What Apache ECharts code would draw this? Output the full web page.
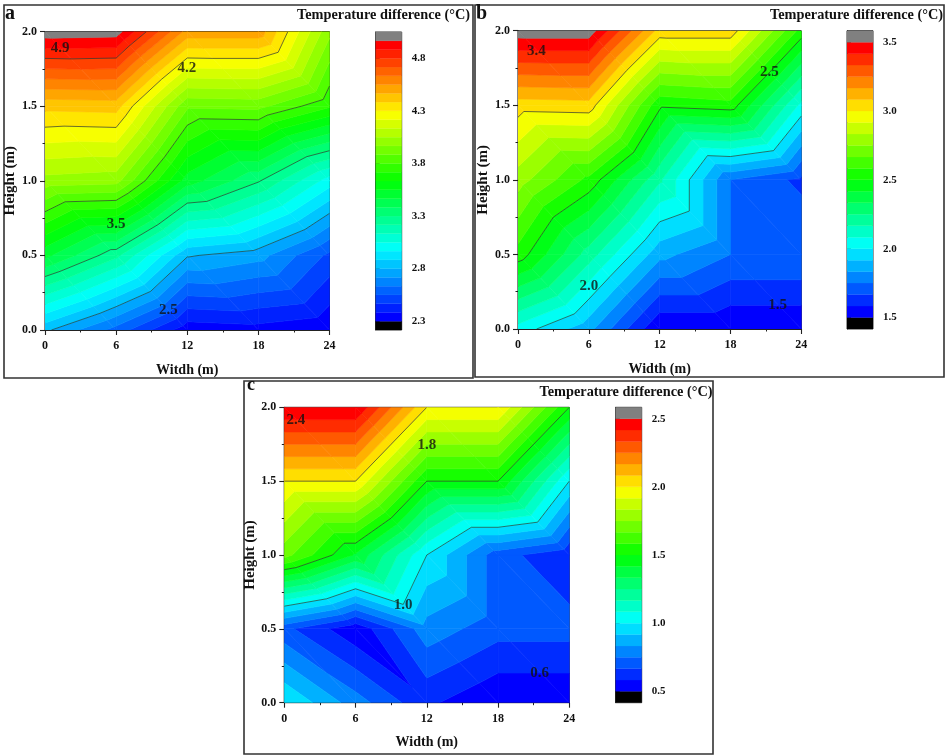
<!DOCTYPE html>
<html><head><meta charset="utf-8">
<style>html,body{margin:0;padding:0;background:#fff}#c{width:945px;height:755px}</style>
<script src="https://cdn.jsdelivr.net/npm/echarts@6/dist/echarts.min.js"></script>
</head><body><div id="c"></div>
<script>
// Measurement grid (same for all three panels)
const widths = [0, 6, 12, 18, 24];
const heights = [0, 0.5, 1, 1.5, 2];
const xTicks = 6, yTicks = 0.5;

// Temperature difference, rows bottom to top
const tempA = [
  [2.82, 2.60, 2.33, 2.35, 2.31],
  [3.49, 3.24, 2.81, 2.75, 2.53],
  [4.02, 4.00, 3.51, 3.31, 3.01],
  [4.41, 4.42, 3.90, 3.91, 3.73],
  [5.02, 5.01, 4.52, 4.52, 3.99]
];
const tempB = [
  [2.05, 1.86, 1.505, 1.505, 1.505],
  [2.55, 2.21, 1.86, 1.75, 1.75],
  [2.79, 2.56, 2.18, 1.75, 1.646],
  [3.04, 3.05, 2.52, 2.55, 2.06],
  [3.55, 3.55, 3.05, 3.05, 2.55]
];
const tempC = [
  [1.00, 0.79, 0.60, 0.505, 0.505],
  [0.69, 0.52, 0.80, 0.70, 0.70],
  [1.70, 1.405, 1.00, 0.70, 0.60],
  [2.00, 2.00, 1.50, 1.50, 1.00],
  [2.50, 2.50, 2.00, 2.00, 1.50]
];

// Colour scale ticks and contour lines
const ticksA = [2.3, 2.8, 3.3, 3.8, 4.3, 4.8];
const ticksB = [1.5, 2.0, 2.5, 3.0, 3.5];
const ticksC = [0.5, 1.0, 1.5, 2.0, 2.5];
const linesA = [2.8, 3.3, 3.8, 4.3, 4.8];
const linesB = [2.0, 2.5, 3.0];
const linesC = [1.0, 1.5, 2.0];
const bandStep = 1 / 12;
const bandCountA = 32, bandCountB = 24, bandCountC = 24;

// Hand-placed contour labels [width, height, text]
const notesA = [[1.27, 1.89, '4.9'], [11.96, 1.754, '4.2'], [6, 0.71, '3.5'], [10.4, 0.13, '2.5']];
const notesB = [[1.55, 1.86, '3.4'], [21.3, 1.72, '2.5'], [6, 0.29, '2.0'], [22, 0.16, '1.5']];
const notesC = [[0.98, 1.91, '2.4'], [12, 1.747, '1.8'], [10, 0.66, '1.0'], [21.5, 0.2, '0.6']];

const SERIF = '"Liberation Serif","Times New Roman",serif';
const TITLE = 'Temperature difference (°C)';

function rainbow(t) {
  const stops = [[0, 0, 255], [0, 255, 255], [0, 255, 0], [255, 255, 0], [255, 0, 0]];
  const p = Math.min(t, 1) * 4, i = Math.min(Math.floor(p), 3), f = p - i;
  const c = stops[i].map((v, k) => Math.round(v + (stops[i + 1][k] - v) * f));
  return 'rgb(' + c.join(',') + ')';
}
const EPS = 1e-6;
function makeBands(first, count) {
  const out = [{lo: -Infinity, hi: first + EPS, color: '#000000'}];
  for (let k = 0; k < count; k++) {
    out.push({lo: first + k * bandStep + EPS, hi: first + (k + 1) * bandStep + EPS, color: rainbow(k / (count - 1))});
  }
  out.push({lo: first + count * bandStep + EPS, hi: Infinity, color: '#808080'});
  return out;
}
function triangles(z) {
  const out = [];
  for (let j = 0; j < heights.length - 1; j++) for (let i = 0; i < widths.length - 1; i++) {
    const a = [widths[i], heights[j], z[j][i]], b = [widths[i + 1], heights[j], z[j][i + 1]],
      c = [widths[i + 1], heights[j + 1], z[j + 1][i + 1]], d = [widths[i], heights[j + 1], z[j + 1][i]];
    out.push([a, b, d]);
    out.push([b, c, d]);
  }
  return out;
}
function cut(poly, keep, level) {
  const out = [];
  for (let i = 0; i < poly.length; i++) {
    const p = poly[i], q = poly[(i + 1) % poly.length];
    const pk = keep(p[2]), qk = keep(q[2]);
    if (pk) out.push(p);
    if (pk !== qk) {
      const f = (level - p[2]) / (q[2] - p[2]);
      out.push([p[0] + (q[0] - p[0]) * f, p[1] + (q[1] - p[1]) * f, level]);
    }
  }
  return out;
}
// one data item per band, drawn low to high so that seams never show
function fillRenderer(bands, tris) {
  return function (params, api) {
    const b = bands[api.value(0)], children = [];
    tris.forEach(tri => {
      let poly = tri;
      if (isFinite(b.lo)) poly = cut(poly, z => z >= b.lo, b.lo);
      if (poly.length && isFinite(b.hi)) poly = cut(poly, z => z <= b.hi, b.hi);
      if (poly.length > 2) {
        children.push({type: 'polygon',
          shape: {points: poly.map(p => api.coord([p[0], p[1]]))},
          style: {fill: b.color, stroke: b.color, lineWidth: 0.6}});
      }
    });
    return {type: 'group', children};
  };
}
function lineRenderer(tris) {
  return function (params, api) {
    const L = api.value(0) + EPS, children = [];
    tris.forEach(tri => {
      const pts = [];
      for (let i = 0; i < 3; i++) {
        const p = tri[i], q = tri[(i + 1) % 3];
        if ((p[2] >= L) !== (q[2] >= L)) {
          const f = (L - p[2]) / (q[2] - p[2]);
          pts.push(api.coord([p[0] + (q[0] - p[0]) * f, p[1] + (q[1] - p[1]) * f]));
        }
      }
      if (pts.length === 2) {
        children.push({type: 'line',
          shape: {x1: pts[0][0], y1: pts[0][1], x2: pts[1][0], y2: pts[1][1]},
          style: {stroke: '#2a3a30', lineWidth: 0.7, fill: null}});
      }
    });
    return {type: 'group', children};
  };
}
function barRenderer(bands, aMin, aMax) {
  return function (params, api) {
    const b = bands[api.value(0)];
    const lo = Math.max(b.lo, aMin), hi = Math.min(b.hi, aMax);
    const p0 = api.coord([0, hi]), p1 = api.coord([1, lo]);
    return {type: 'rect', shape: {x: p0[0], y: p0[1], width: p1[0] - p0[0], height: p1[1] - p0[1]},
      style: {fill: b.color, stroke: b.color, lineWidth: 0.3}};
  };
}

const panels = [
  {z: tempA, ticks: ticksA, lines: linesA, first: 2.3, count: bandCountA, notes: notesA, xName: 'Witdh (m)', letter: 'a',
   grid: {left: 45, top: 31.5, width: 284.5, height: 298.5}, bar: {left: 375.7, top: 32, width: 26, height: 298},
   titleX: 470, titleY: 8, letterX: 5, letterY: 4, letterSize: 20, border: [4, 5, 469, 373]},
  {z: tempB, ticks: ticksB, lines: linesB, first: 1.5, count: bandCountB, notes: notesB, xName: 'Width (m)', letter: 'b',
   grid: {left: 518, top: 30.7, width: 283.3, height: 298.3}, bar: {left: 847, top: 30.7, width: 26, height: 298.3},
   titleX: 943, titleY: 8, letterX: 476, letterY: 4, letterSize: 20, border: [475, 5, 469, 372]},
  {z: tempC, ticks: ticksC, lines: linesC, first: 0.5, count: bandCountC, notes: notesC, xName: 'Width (m)', letter: 'c',
   grid: {left: 284.3, top: 407.3, width: 285, height: 295.4}, bar: {left: 615.7, top: 407.3, width: 26, height: 295.4},
   titleX: 712.5, titleY: 385, letterX: 247, letterY: 376, letterSize: 18, border: [244, 381, 469, 373]}
];

const option = {backgroundColor: '#fff', animation: false, title: [], grid: [], xAxis: [], yAxis: [], series: [],
  graphic: {elements: []}};
const tickText = {fontFamily: SERIF, fontWeight: 'bold', fontSize: 12, color: '#111'};

panels.forEach((p, n) => {
  const g = n * 2, gb = n * 2 + 1;
  const bands = makeBands(p.first, p.count);
  const aMin = p.first - bandStep, aMax = p.first + (p.count + 1) * bandStep;
  const tris = triangles(p.z);
  const axisLine = {lineStyle: {color: '#222', width: 1.2}};
  option.graphic.elements.push({type: 'rect', z: 0, silent: true,
    shape: {x: p.border[0], y: p.border[1], width: p.border[2], height: p.border[3]},
    style: {fill: 'none', stroke: '#333', lineWidth: 1.6}});
  option.title.push({text: TITLE, left: p.titleX, top: p.titleY, textAlign: 'right', padding: 0,
    textStyle: {fontFamily: SERIF, fontWeight: 'bold', fontSize: 14.3, color: '#111'}});
  option.title.push({text: p.letter, left: p.letterX, top: p.letterY, padding: 0,
    textStyle: {fontFamily: SERIF, fontWeight: 'bold', fontSize: p.letterSize, color: '#111'}});
  option.grid.push(Object.assign({show: true, borderColor: '#222', borderWidth: 1, backgroundColor: 'transparent'}, p.grid));
  option.grid.push(Object.assign({show: true, borderColor: '#333', borderWidth: 1, backgroundColor: 'transparent'}, p.bar));
  option.xAxis.push({type: 'value', gridIndex: g, min: widths[0], max: widths[widths.length - 1], interval: xTicks,
    name: p.xName, nameLocation: 'middle', nameGap: 33,
    nameTextStyle: {fontFamily: SERIF, fontWeight: 'bold', fontSize: 14, color: '#111'},
    splitLine: {show: false}, axisLine, axisTick: {length: 5, lineStyle: {color: '#222', width: 1.1}},
    minorTick: {show: true, splitNumber: 2, length: 2.5, lineStyle: {color: '#222'}},
    axisLabel: Object.assign({margin: 10, formatter: v => String(v)}, tickText)});
  option.yAxis.push({type: 'value', gridIndex: g, min: heights[0], max: heights[heights.length - 1], interval: yTicks,
    name: 'Height (m)', nameLocation: 'middle', nameGap: 25,
    nameTextStyle: {fontFamily: SERIF, fontWeight: 'bold', fontSize: 15, color: '#111'},
    splitLine: {show: false}, axisLine, axisTick: {length: 5, lineStyle: {color: '#222', width: 1.1}},
    minorTick: {show: true, splitNumber: 2, length: 2.5, lineStyle: {color: '#222'}},
    axisLabel: Object.assign({margin: 8, formatter: v => v.toFixed(1)}, tickText)});
  option.xAxis.push({type: 'value', gridIndex: gb, min: 0, max: 1, show: false});
  option.yAxis.push({type: 'value', gridIndex: gb, min: aMin, max: aMax, position: 'right',
    splitLine: {show: false},
    axisLine: {show: true, lineStyle: {color: '#333', width: 1}},
    axisTick: {show: true, length: 4, lineStyle: {color: '#222', width: 1.1}, customValues: p.ticks},
    axisLabel: Object.assign({}, tickText, {fontSize: 11, margin: 10, customValues: p.ticks, formatter: v => v.toFixed(1)})});

  option.series.push({type: 'custom', xAxisIndex: g, yAxisIndex: g, silent: true, clip: true, z: 1,
    renderItem: fillRenderer(bands, tris), data: bands.map((b, i) => [i]), encode: {x: [], y: []}});
  option.series.push({type: 'custom', xAxisIndex: g, yAxisIndex: g, silent: true, clip: true, z: 2,
    renderItem: lineRenderer(tris), data: p.lines.map(l => [l]), encode: {x: [], y: []}});
  option.series.push({type: 'scatter', xAxisIndex: g, yAxisIndex: g, silent: true, symbolSize: 0, z: 3,
    data: p.notes.map(a => ({value: [a[0], a[1]], label: {formatter: a[2]}})),
    label: {show: true, position: 'inside', fontFamily: SERIF, fontWeight: 'bold', fontSize: 15, color: '#111'}});
  option.series.push({type: 'custom', xAxisIndex: gb, yAxisIndex: gb, silent: true, clip: true, z: 1,
    renderItem: barRenderer(bands, aMin, aMax), data: bands.map((b, i) => [i]), encode: {x: [], y: []}});
});

const chart = echarts.init(document.getElementById('c'), null, {renderer: 'canvas', width: 945, height: 755});
chart.setOption(option);
</script></body></html>
